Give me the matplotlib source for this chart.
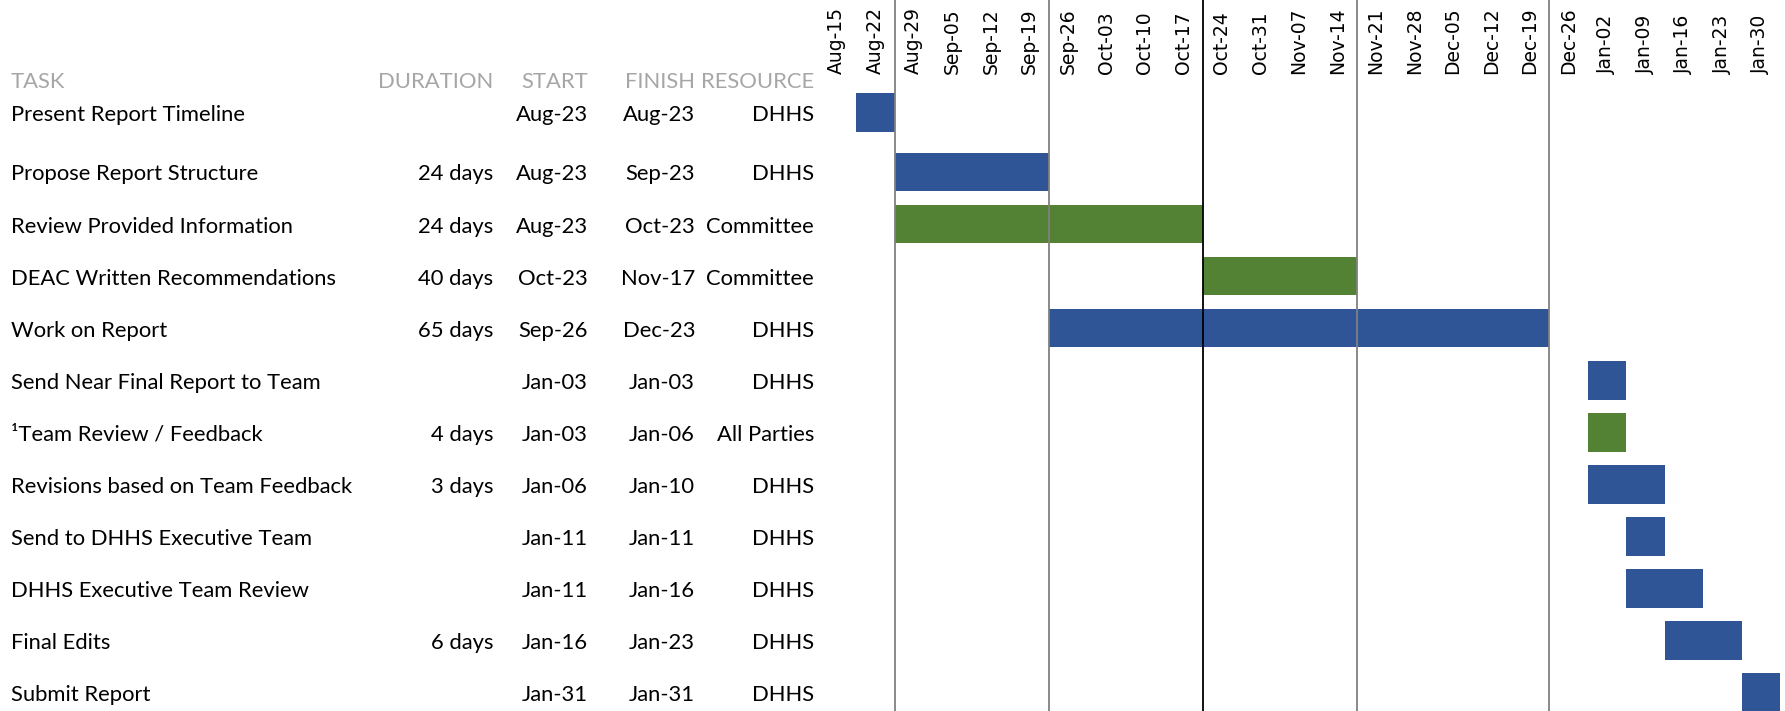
import matplotlib
matplotlib.use('Agg')
import matplotlib.pyplot as plt
import matplotlib.transforms as mtransforms
import numpy as np

# gantt chart: task table on the left, weekly timeline on the right
tasks = ['Present Report Timeline', 'Propose Report Structure', 'Review Provided Information',
         'DEAC Written Recommendations', 'Work on Report', 'Send Near Final Report to Team',
         '\u00b9Team Review / Feedback', 'Revisions based on Team Feedback', 'Send to DHHS Executive Team',
         'DHHS Executive Team Review', 'Final Edits', 'Submit Report']
durations = ['', '24 days', '24 days', '40 days', '65 days', '', '4 days', '3 days', '', '', '6 days', '']
starts = ['Aug-23', 'Aug-23', 'Aug-23', 'Oct-23', 'Sep-26', 'Jan-03', 'Jan-03', 'Jan-06', 'Jan-11', 'Jan-11', 'Jan-16', 'Jan-31']
finishes = ['Aug-23', 'Sep-23', 'Oct-23', 'Nov-17', 'Dec-23', 'Jan-03', 'Jan-06', 'Jan-10', 'Jan-11', 'Jan-16', 'Jan-23', 'Jan-31']
resources = ['DHHS', 'DHHS', 'Committee', 'Committee', 'DHHS', 'DHHS', 'All Parties', 'DHHS', 'DHHS', 'DHHS', 'DHHS', 'DHHS']

# bar extent in week columns (column 0 = Aug-15)
bar_start_week = [1, 2, 2, 10, 6, 20, 20, 20, 21, 21, 22, 24]
bar_weeks = [1, 4, 8, 4, 13, 1, 1, 2, 1, 2, 2, 1]

week_labels = ['Aug-15', 'Aug-22', 'Aug-29', 'Sep-05', 'Sep-12', 'Sep-19', 'Sep-26', 'Oct-03',
               'Oct-10', 'Oct-17', 'Oct-24', 'Oct-31', 'Nov-07', 'Nov-14', 'Nov-21', 'Nov-28',
               'Dec-05', 'Dec-12', 'Dec-19', 'Dec-26', 'Jan-02', 'Jan-09', 'Jan-16', 'Jan-23', 'Jan-30']
divider_weeks = [2, 6, 10, 14, 19]
divider_colors = ['#808080', '#808080', '#000000', '#808080', '#808080']

res_colors = {'DHHS': '#2F5597', 'Committee': '#548235', 'All Parties': '#548235'}

table_font = ['Lato', 'DejaVu Sans']
W, H = 1785, 711
fig = plt.figure(figsize=(W/100, H/100), dpi=100)
ax = fig.add_axes([817.5/W, 0, 962.5/W, 1])

row_y = np.arange(len(tasks), dtype=float)
row_y[0] = -0.14  # first row sits a bit higher in the sheet

ax.barh(row_y, bar_weeks, left=bar_start_week, height=0.74,
        color=[res_colors[r] for r in resources], zorder=2)

for wk, c in zip(divider_weeks, divider_colors):
    ax.axvline(wk, color=c, lw=1.3, zorder=3)

for i, lab in enumerate(week_labels):
    ax.text(i + 0.5, -0.87, lab, rotation=90, ha='center', va='bottom',
            fontsize=13.5, color='black', family='DejaVu Sans')

ax.set_xlim(0, len(week_labels))
ax.set_ylim(11.35, -2.30)
ax.axis('off')

# table columns: x in figure pixels, y in the gantt rows
tr = mtransforms.blended_transform_factory(fig.transFigure, ax.transData)
text_dy = 0.05
header_y = -0.77 + text_dy
fs = 15.8
hdr = dict(transform=tr, color='#a6a6a6', fontsize=fs, family=table_font, va='center')
ax.text(11/W, header_y, 'TASK', ha='left', **hdr)
ax.text(493/W, header_y, 'DURATION', ha='right', **hdr)
ax.text(588/W, header_y, 'START', ha='right', **hdr)
ax.text(695/W, header_y, 'FINISH', ha='right', **hdr)
ax.text(814/W, header_y, 'RESOURCE', ha='right', **hdr)

cell = dict(transform=tr, color='black', fontsize=fs, family=table_font, va='center')
for i in range(len(tasks)):
    y = row_y[i] + text_dy
    ax.text(11/W, y, tasks[i], ha='left', **cell)
    ax.text(493/W, y, durations[i], ha='right', **cell)
    ax.text(588/W, y, starts[i], ha='right', **cell)
    ax.text(695/W, y, finishes[i], ha='right', **cell)
    ax.text(814/W, y, resources[i], ha='right', **cell)

fig.savefig('out.png', dpi=100)
